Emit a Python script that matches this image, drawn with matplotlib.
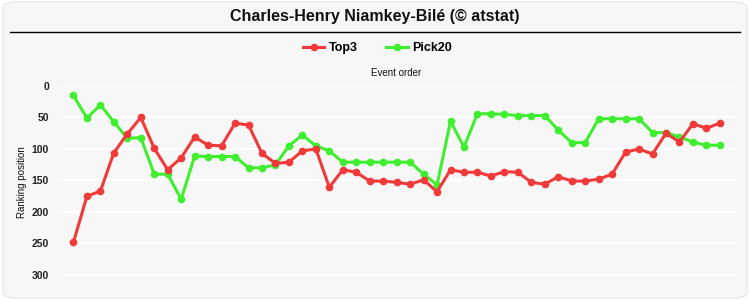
import matplotlib
matplotlib.use("Agg")
import matplotlib.pyplot as plt
from matplotlib.patches import FancyBboxPatch
from matplotlib.lines import Line2D

plt.rcParams['font.family'] = ['Liberation Sans', 'DejaVu Sans']

# data (ranking position per event)
events = list(range(1, 50))
top3 = [248, 175, 167, 106, 76, 50, 99, 133, 114, 81,
        94, 95, 59, 62, 107, 123, 121, 103, 100, 161,
        133, 137, 151, 151, 153, 156, 149, 168, 133, 137,
        137, 143, 136, 137, 153, 156, 144, 151, 151, 148,
        140, 105, 100, 108, 75, 89, 60, 67, 59]
pick20 = [15, 51, 30, 57, 83, 82, 140, 140, 180, 111,
          112, 112, 112, 130, 130, 125, 95, 78, 95, 103,
          121, 121, 121, 121, 121, 121, 140, 157, 56, 97,
          44, 44, 45, 47, 47, 47, 70, 90, 90, 52,
          52, 52, 52, 74, 74, 81, 89, 94, 94]
series_names = ["Top3", "Pick20"]
y_ticks = [0, 50, 100, 150, 200, 250, 300]

title = "Charles-Henry Niamkey-Bilé (© atstat)"
red = "#f03a3a"
green = "#40ee30"
bg = "#f7f7f7"

fig = plt.figure(figsize=(7.5, 3), dpi=100, facecolor="white")

# rounded grey panel behind everything
panel = FancyBboxPatch((0.004, 0.006), 0.992, 0.988,
                       boxstyle="round,pad=0,rounding_size=0.02",
                       transform=fig.transFigure, facecolor=bg,
                       edgecolor="#e6e6e6", linewidth=0.8, zorder=-10)
fig.patches.append(panel)

# title and rule under it
fig.text(0.5, 1 - 16 / 300, title, ha="center", va="center",
         fontsize=11.5, fontweight="bold", color="#111111")
fig.add_artist(Line2D([10 / 750, 740 / 750], [1 - 32 / 300, 1 - 32 / 300],
                      transform=fig.transFigure, color="black", linewidth=1))

ax = fig.add_axes([60 / 750, 10 / 300, 676 / 750, 204 / 300])
ax.set_facecolor("none")
x = [e - 1 for e in events]
ax.plot(x, top3, color=red, linewidth=2.2, marker="o", markersize=4.5,
        label=series_names[0], zorder=3)
ax.plot(x, pick20, color=green, linewidth=2.2, marker="o", markersize=4.5,
        label=series_names[1], zorder=2)

ax.set_xlim(-1, 49.2)
ax.set_ylim(324, 0)
ax.set_yticks(y_ticks)
ax.set_yticklabels([str(t) for t in y_ticks], fontsize=7.5, fontweight="bold",
                   color="#222222")
ax.set_xticks([])
ax.tick_params(axis="y", length=0, pad=8)
ax.grid(axis="y", color="white", linewidth=1.3, zorder=0)
ax.set_axisbelow(True)
for s in ax.spines.values():
    s.set_visible(False)

# axis titles
fig.text(22 / 750, 1 - 182 / 300, "Ranking position", rotation=90,
         ha="center", va="center", fontsize=7, color="#111111")
fig.text(396 / 750, 1 - 73 / 300, "Event order", ha="center", va="center",
         fontsize=7, color="#111111")

# legend on top
fig.legend(loc="center", bbox_to_anchor=(0.503, 1 - 48 / 300), ncol=2,
           frameon=False, prop={"size": 9, "weight": "bold"},
           handlelength=1.7, handletextpad=0.35, columnspacing=2.3)

fig.savefig("out.png", dpi=100, facecolor="white")
